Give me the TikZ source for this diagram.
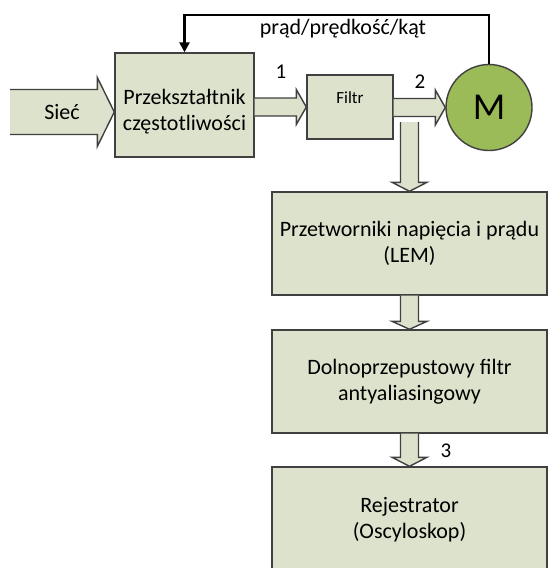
\documentclass[tikz,border=0pt]{standalone}
\usepackage{fontspec}
\setmainfont{Carlito}
\usetikzlibrary{calc,arrows.meta}
\definecolor{boxfill}{HTML}{DDE2CC}
\definecolor{motorfill}{HTML}{9BBB59}
\definecolor{edge}{HTML}{404040}

% block arrows: start, tip, body half width, head half width, head length
\newcommand{\blockright}[5]{%
  \path[barrow] ($(#1|-#2)+(0,#3)$) -- ($(#2)+(-#5,#3)$) -- ($(#2)+(-#5,#4)$) -- (#2)
    -- ($(#2)+(-#5,-#4)$) -- ($(#2)+(-#5,-#3)$) -- ($(#1|-#2)+(0,-#3)$);}
\newcommand{\blockdown}[5]{%
  \path[barrow] ($(#2|-#1)+(-#3,0)$) -- ($(#2)+(-#3,-#5)$) -- ($(#2)+(-#4,-#5)$) -- (#2)
    -- ($(#2)+(#4,-#5)$) -- ($(#2)+(#3,-#5)$) -- ($(#2|-#1)+(#3,0)$);}

\begin{document}
\begin{tikzpicture}[x=1pt,y=-1pt,font=\fontsize{22}{26}\selectfont,
    box/.style={draw=edge,fill=boxfill,line width=1.4pt,inner sep=0pt},
    barrow/.style={draw=edge,fill=boxfill,line width=1.4pt,line join=miter},
    feedback/.style={draw=black,line width=2.6pt,-{Triangle[length=10pt,width=10pt]}},
    num/.style={font=\fontsize{21}{22}\selectfont}]
  \useasboundingbox (0,0) rectangle (548,568);
  \clip (0,0) rectangle (548,568);
  % blocks
  \node[box,minimum width=139,minimum height=104] (conv) at (184.5,105) {};
  \node[box,minimum width=86,minimum height=64] (filtr) at (350,107) {};
  \node[circle,draw=edge,fill=motorfill,line width=1.4pt,minimum size=86,inner sep=0pt] (motor) at (489,107.5) {\fontsize{38}{38}\selectfont M};
  \node[box,minimum width=275,minimum height=103,align=center] (lem) at (409.5,243.5) {Przetworniki napięcia i prądu\\(LEM)};
  \node[box,minimum width=275,minimum height=103,align=center] (dolno) at (409.5,381.5) {Dolnoprzepustowy filtr\\antyaliasingowy};
  \node[box,minimum width=275,minimum height=106,align=center] (rej) at (409.5,520) {Rejestrator\\(Oscyloskop)};
  % block arrows
  \coordinate (mains) at (10,112);
  \coordinate (convin) at (conv.west |- mains);
  \blockright{mains}{convin}{22.5}{34.5}{17}
  \blockright{conv.east}{filtr.west}{9}{17.5}{10}
  \blockright{filtr.east}{motor.west}{9}{17.5}{10}
  \coordinate (tap) at (410.5,122);
  \blockdown{tap}{lem.north}{9}{17.5}{9}
  \blockdown{lem.south}{dolno.north}{9}{17.5}{8}
  \blockdown{dolno.south}{rej.north}{9}{17.5}{9}
  % texts
  \node (siec) at (62,112) {Sieć};
  \node[align=center] (convtext) at ($(conv)+(0,7)$) {Przekształtnik\\częstotliwości};
  \node[font=\fontsize{17}{18}\selectfont] (filtrtext) at ($(filtr)+(0,-9)$) {Filtr};
  \node[num] (n1) at (281,72) {1};
  \node[num] (n2) at (420,82) {2};
  \node[num] (n3) at (446,451) {3};
  % feedback loop
  \coordinate (fbtop) at (0,15);
  \draw[feedback] (motor.north) |- (fbtop -| conv.north) -- (conv.north);
  \node (fbtext) at (343,29) {prąd/prędkość/kąt};
\end{tikzpicture}
\end{document}
